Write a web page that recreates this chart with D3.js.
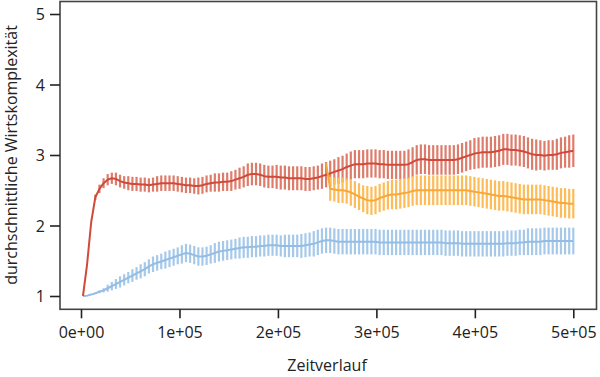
<!DOCTYPE html>
<html><head><meta charset="utf-8">
<script src="https://cdn.jsdelivr.net/npm/d3@7"></script>
<style>body{margin:0;background:#fff}svg{display:block}text{font-family:"Open Sans",sans-serif;fill:#222}</style>
</head><body><svg id="c" width="600" height="377"></svg>
<script>
const xStart = 2000, xStep = 4185;
const xTicks = [0, 100000, 200000, 300000, 400000, 500000];
const xTickLabels = ["0e+00","1e+05","2e+05","3e+05","4e+05","5e+05"];
const yTicks = [1, 2, 3, 4, 5];
const redMean = [1.00,1.45,2.05,2.40,2.52,2.60,2.65,2.67,2.66,2.63,
2.61,2.60,2.59,2.59,2.58,2.58,2.57,2.58,2.59,2.60,
2.60,2.60,2.60,2.59,2.58,2.57,2.57,2.56,2.56,2.57,
2.59,2.60,2.61,2.61,2.62,2.62,2.63,2.65,2.67,2.69,
2.72,2.73,2.73,2.72,2.70,2.69,2.69,2.69,2.68,2.68,
2.67,2.67,2.67,2.67,2.66,2.66,2.67,2.68,2.70,2.72,
2.74,2.76,2.78,2.80,2.83,2.85,2.87,2.87,2.87,2.88,
2.88,2.88,2.87,2.87,2.86,2.86,2.86,2.86,2.86,2.87,
2.90,2.93,2.94,2.94,2.93,2.93,2.93,2.93,2.93,2.93,
2.93,2.94,2.96,2.98,3.00,3.02,3.03,3.04,3.04,3.04,
3.05,3.06,3.08,3.08,3.07,3.07,3.06,3.05,3.03,3.01,
3.00,3.00,2.99,3.00,3.00,3.01,3.03,3.04,3.05,3.06];
const redErr = [0,0,0,0.04,0.06,0.07,0.08,0.08,0.09,0.09,
0.09,0.10,0.10,0.10,0.10,0.10,0.10,0.10,0.11,0.11,
0.11,0.11,0.11,0.11,0.11,0.11,0.11,0.11,0.12,0.12,
0.12,0.12,0.13,0.13,0.13,0.13,0.14,0.14,0.15,0.15,
0.16,0.16,0.16,0.16,0.16,0.16,0.16,0.17,0.17,0.17,
0.17,0.17,0.17,0.17,0.17,0.17,0.17,0.17,0.18,0.18,
0.18,0.18,0.19,0.19,0.19,0.20,0.20,0.20,0.20,0.20,
0.20,0.20,0.20,0.20,0.20,0.20,0.20,0.20,0.20,0.21,
0.21,0.21,0.21,0.21,0.21,0.21,0.21,0.21,0.21,0.21,
0.21,0.21,0.21,0.21,0.21,0.22,0.22,0.22,0.22,0.22,
0.22,0.22,0.22,0.22,0.22,0.22,0.22,0.22,0.22,0.22,
0.22,0.21,0.21,0.21,0.21,0.22,0.22,0.22,0.23,0.23];
const blueMean = [1.00,1.005,1.02,1.04,1.06,1.08,1.11,1.14,1.17,1.20,
1.23,1.26,1.29,1.32,1.35,1.38,1.42,1.45,1.47,1.49,
1.51,1.53,1.55,1.57,1.59,1.61,1.60,1.58,1.56,1.56,
1.57,1.59,1.61,1.63,1.64,1.65,1.66,1.67,1.68,1.69,
1.69,1.70,1.70,1.71,1.71,1.72,1.72,1.72,1.71,1.71,
1.71,1.71,1.71,1.71,1.72,1.73,1.74,1.76,1.78,1.79,
1.79,1.78,1.77,1.77,1.77,1.77,1.77,1.77,1.77,1.77,
1.77,1.77,1.76,1.76,1.76,1.76,1.76,1.76,1.76,1.76,
1.76,1.76,1.76,1.76,1.76,1.76,1.76,1.76,1.75,1.75,
1.75,1.75,1.74,1.74,1.74,1.74,1.74,1.74,1.74,1.74,
1.74,1.74,1.74,1.75,1.75,1.75,1.76,1.76,1.77,1.77,
1.77,1.77,1.78,1.78,1.78,1.78,1.78,1.78,1.78,1.78];
const blueErr = [0,0,0,0,0.02,0.03,0.05,0.06,0.07,0.08,
0.08,0.08,0.09,0.09,0.10,0.10,0.10,0.11,0.11,0.11,
0.12,0.12,0.12,0.12,0.13,0.13,0.13,0.13,0.13,0.13,
0.13,0.13,0.14,0.14,0.14,0.14,0.14,0.14,0.15,0.15,
0.15,0.15,0.15,0.15,0.15,0.15,0.15,0.15,0.15,0.16,
0.16,0.16,0.16,0.17,0.17,0.17,0.18,0.18,0.18,0.18,
0.18,0.18,0.18,0.18,0.18,0.18,0.18,0.18,0.18,0.18,
0.18,0.18,0.18,0.18,0.18,0.18,0.18,0.18,0.18,0.18,
0.18,0.18,0.18,0.18,0.18,0.18,0.18,0.18,0.18,0.18,
0.18,0.18,0.18,0.18,0.18,0.18,0.18,0.18,0.18,0.18,
0.18,0.18,0.18,0.18,0.18,0.18,0.18,0.18,0.19,0.19,
0.19,0.19,0.19,0.19,0.19,0.19,0.19,0.19,0.19,0.19];
const orangeStart = 59;
const orangeMean = [2.88,
2.52,2.51,2.50,2.50,2.49,2.47,2.44,2.41,2.38,2.36,
2.35,2.36,2.39,2.41,2.43,2.44,2.44,2.45,2.46,2.47,
2.49,2.50,2.50,2.50,2.50,2.50,2.50,2.50,2.50,2.50,
2.50,2.50,2.50,2.50,2.49,2.48,2.47,2.46,2.45,2.44,
2.43,2.42,2.42,2.41,2.40,2.39,2.38,2.37,2.37,2.37,
2.37,2.37,2.36,2.35,2.34,2.33,2.32,2.32,2.31,2.31];
const orangeErr = [0,
0.17,0.17,0.18,0.18,0.18,0.19,0.19,0.19,0.19,0.20,
0.20,0.20,0.20,0.20,0.20,0.21,0.21,0.21,0.21,0.21,
0.21,0.21,0.21,0.21,0.21,0.21,0.21,0.21,0.21,0.21,
0.21,0.21,0.21,0.21,0.21,0.21,0.21,0.21,0.21,0.21,
0.21,0.21,0.21,0.21,0.21,0.21,0.21,0.21,0.21,0.21,
0.21,0.21,0.21,0.21,0.21,0.21,0.21,0.21,0.21,0.21];

const svg = d3.select("#c");
const x = d3.scaleLinear().domain([0, 500000]).range([81, 573.3]);
const y = d3.scaleLinear().domain([1, 5]).range([296, 14]);

function series(mean, err, offset, barColor, lineColor) {
  const data = mean.map((m, i) => ({t: xStart + (i + offset) * xStep, m, e: err[i]}));
  const g = svg.append("g");
  g.selectAll("line").data(data.filter(d => d.e > 0)).join("line")
    .attr("x1", d => x(d.t)).attr("x2", d => x(d.t))
    .attr("y1", d => y(d.m - d.e)).attr("y2", d => y(d.m + d.e))
    .attr("stroke", barColor).attr("stroke-width", 2.2);
  g.append("path").datum(data)
    .attr("d", d3.line().x(d => x(d.t)).y(d => y(d.m)))
    .attr("fill", "none").attr("stroke", lineColor).attr("stroke-width", 2.0)
    .attr("stroke-linejoin", "round");
}
series(blueMean, blueErr, 0, "#a6c9ea", "#93bde5");
series(redMean, redErr, 0, "#de7c6b", "#cf4a3a");
series(orangeMean, orangeErr, orangeStart, "#fdbc58", "#f7a838");

// box
svg.append("rect").attr("x", 60).attr("y", 1.5).attr("width", 536.5).attr("height", 307.8)
  .attr("fill", "none").attr("stroke", "#444").attr("stroke-width", 1.6);

// x axis
const xa = svg.append("g").attr("transform", "translate(0,309.3)")
  .call(d3.axisBottom(x).tickValues(xTicks).tickSize(9).tickFormat((d, i) => xTickLabels[i]));
xa.select(".domain").remove();
xa.selectAll("line").attr("stroke", "#222").attr("stroke-width", 1.6);
xa.selectAll("text").attr("font-size", 16).attr("dy", null).attr("y", 29).attr("fill", "#222")
  .style("font-family", '"Open Sans", sans-serif');

// y axis
const ya = svg.append("g").attr("transform", "translate(60,0)")
  .call(d3.axisLeft(y).tickValues(yTicks).tickSize(10).tickFormat(d3.format("d")));
ya.select(".domain").remove();
ya.selectAll("line").attr("stroke", "#222").attr("stroke-width", 1.6);
ya.selectAll("text").attr("font-size", 16).attr("x", -15).attr("dy", "0.36em").attr("fill", "#222")
  .style("font-family", '"Open Sans", sans-serif');

svg.append("text").attr("x", 327).attr("y", 371).attr("text-anchor", "middle")
  .attr("font-size", 16).text("Zeitverlauf");
svg.append("text").attr("transform", "translate(17,155) rotate(-90)").attr("text-anchor", "middle")
  .attr("font-size", 16).text("durchschnittliche Wirtskomplexität");
</script></body></html>
